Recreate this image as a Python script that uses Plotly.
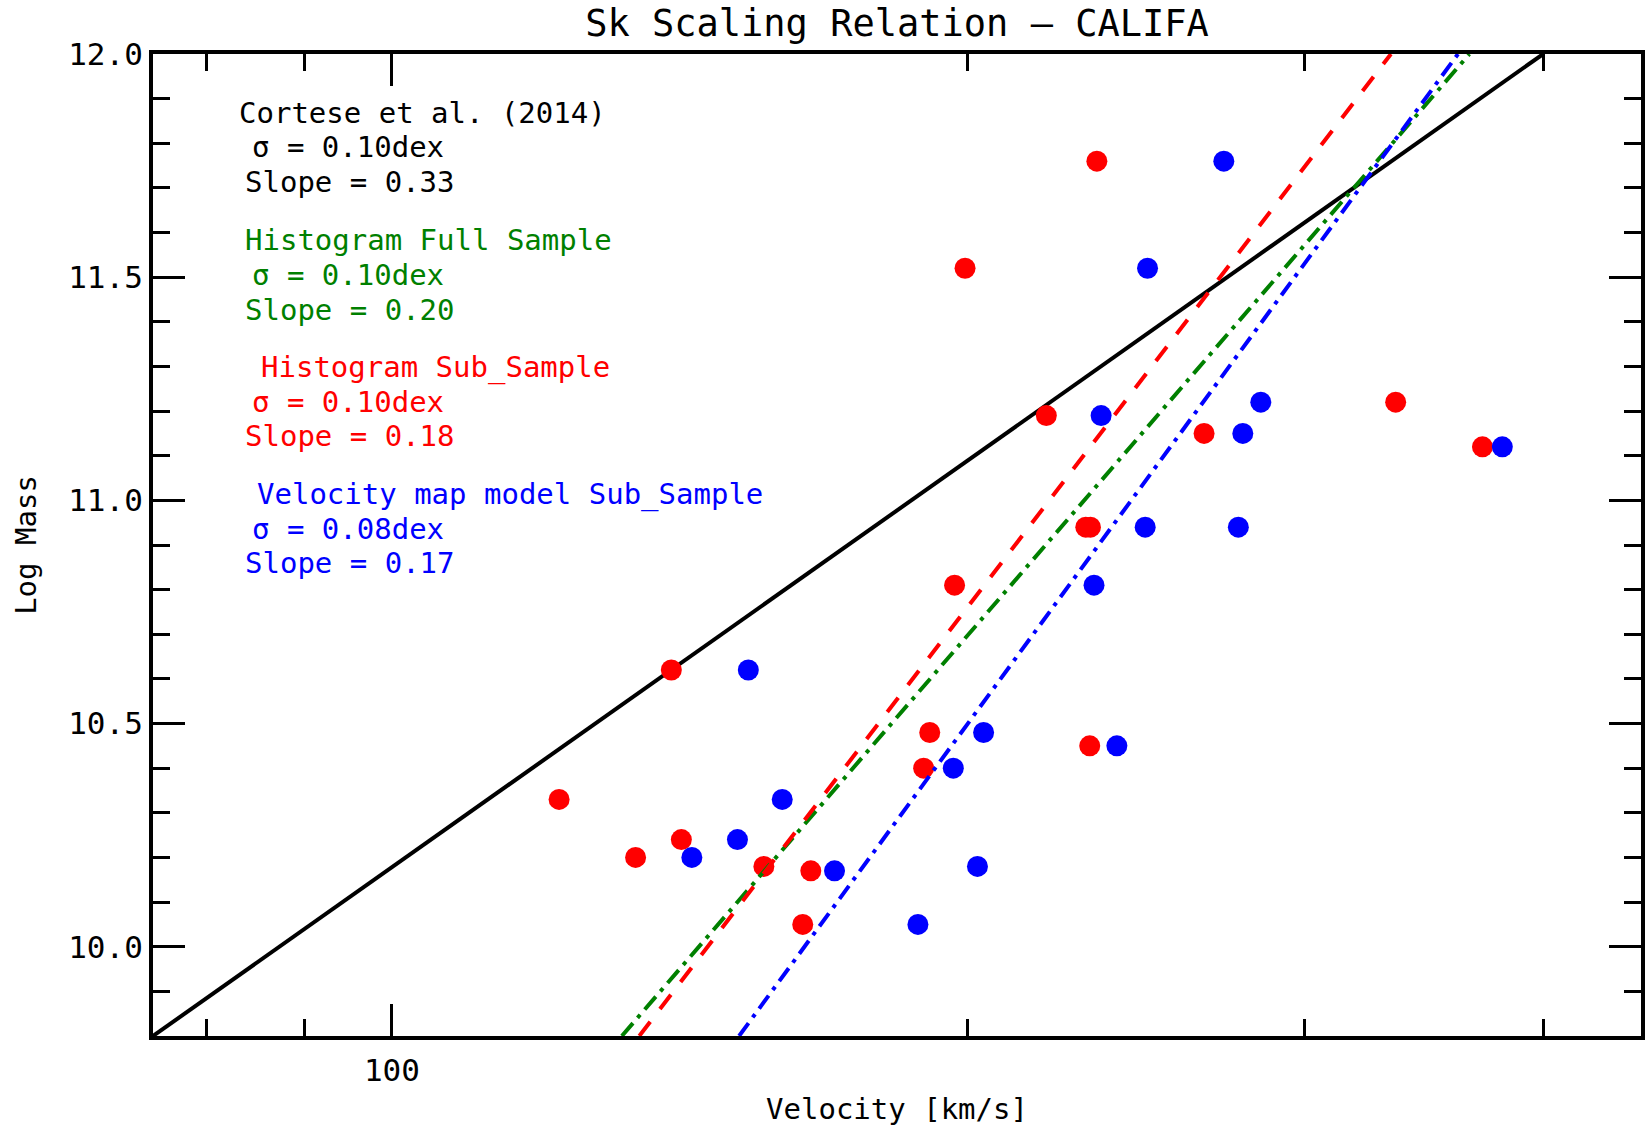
import math
import plotly.graph_objects as go

# ---------------- data ----------------
log_mass = [11.76, 11.52, 11.22, 11.19, 11.15, 11.12, 10.94, 10.94, 10.81, 10.62,
            10.48, 10.45, 10.40, 10.33, 10.24, 10.20, 10.18, 10.17, 10.05]
vel_hist_sub = [233.7, 199.4, 334.9, 219.9, 265.9, 371.8, 230.6, 231.9, 196.9, 140.0,
                191.1, 231.7, 189.7, 122.3, 141.7, 134.1, 156.5, 165.6, 164.0]
vel_model_sub = [272.3, 248.4, 284.7, 234.9, 278.6, 380.8, 247.7, 277.1, 232.9, 153.6,
                 203.9, 239.4, 196.6, 160.0, 151.6, 143.5, 202.4, 170.4, 188.4]

fit_mass = [9.8, 12.0]
vel_cortese_fit = [75.0, 400.0]
vel_hist_full_fit = [131.9, 366.0]
vel_hist_sub_fit = [134.7, 333.0]
vel_model_sub_fit = [151.9, 361.0]

x_major_ticks = [100]
x_major_labels = ["100"]
x_minor_ticks = [80, 90, 200, 300, 400]
y_major_ticks = [10.0, 10.5, 11.0, 11.5, 12.0]
y_major_labels = ["10.0", "10.5", "11.0", "11.5", "12.0"]

x_range = [75, 450]
y_range = [9.8, 12.0]

title_text = "Sk Scaling Relation – CALIFA"
x_title = "Velocity [km/s]"
y_title = "Log Mass"

legend_lines = ["Cortese et al. (2014)", "σ = 0.10dex", "Slope = 0.33",
                "Histogram Full Sample", "σ = 0.10dex", "Slope = 0.20",
                "Histogram Sub_Sample", "σ = 0.10dex", "Slope = 0.18",
                "Velocity map model Sub_Sample", "σ = 0.08dex", "Slope = 0.17"]

# ---------------- styles ----------------
BLACK, GREEN, RED, BLUE = "#000000", "#008000", "#ff0000", "#0000ff"
FONT = "DejaVu Sans Mono"
W, H = 1651, 1128
ML, MR, MT, MB = 153, 6, 54, 92

legend_colors = [BLACK] * 3 + [GREEN] * 3 + [RED] * 3 + [BLUE] * 3
legend_px = [238, 251, 244, 244, 251, 244, 260, 251, 244, 256, 251, 244]
legend_py = [113, 147, 182, 240, 275, 310, 368, 402, 436, 494, 529, 563]

fig = go.Figure()

fig.add_trace(go.Scatter(x=vel_cortese_fit, y=fit_mass, mode="lines",
                         line=dict(color=BLACK, width=4), showlegend=False))
fig.add_trace(go.Scatter(x=vel_hist_sub, y=log_mass, mode="markers",
                         marker=dict(color=RED, size=21, line=dict(width=0)),
                         showlegend=False))
fig.add_trace(go.Scatter(x=vel_model_sub, y=log_mass, mode="markers",
                         marker=dict(color=BLUE, size=21, line=dict(width=0)),
                         showlegend=False))
fig.add_trace(go.Scatter(x=vel_hist_full_fit, y=fit_mass, mode="lines",
                         line=dict(color=GREEN, width=4, dash="17px,7px,4px,7px"),
                         showlegend=False))
fig.add_trace(go.Scatter(x=vel_hist_sub_fit, y=fit_mass, mode="lines",
                         line=dict(color=RED, width=4, dash="18px,16px"),
                         showlegend=False))
fig.add_trace(go.Scatter(x=vel_model_sub_fit, y=fit_mass, mode="lines",
                         line=dict(color=BLUE, width=4, dash="16px,7px,4px,7px"),
                         showlegend=False))

pw = W - ML - MR
ph = H - MT - MB
annotations = []
for txt, col, px, py in zip(legend_lines, legend_colors, legend_px, legend_py):
    annotations.append(dict(text=txt, xref="paper", yref="paper",
                            x=(px - ML) / pw, y=(H - MB - py) / ph,
                            xanchor="left", yanchor="middle", showarrow=False,
                            borderpad=0,
                            font=dict(family=FONT, size=29, color=col)))

axis_common = dict(showline=True, linecolor=BLACK, linewidth=4, mirror="ticks",
                   ticks="inside", ticklen=32, tickwidth=3, tickcolor=BLACK,
                   showgrid=False, zeroline=False,
                   tickfont=dict(family=FONT, size=31, color=BLACK))

fig.update_layout(
    width=W, height=H,
    margin=dict(l=ML, r=MR, t=MT, b=MB, pad=0),
    paper_bgcolor="white", plot_bgcolor="white",
    title=dict(text=title_text, x=0.5, xref="paper", xanchor="center",
               y=1 - 23 / H, yref="container", yanchor="middle",
               font=dict(family=FONT, size=37, color=BLACK)),
    xaxis=dict(type="log", range=[math.log10(x_range[0]), math.log10(x_range[1])],
               tickmode="array", tickvals=x_major_ticks, ticktext=x_major_labels,
               ticklabelstandoff=4,
               minor=dict(tickmode="array", tickvals=x_minor_ticks, ticks="inside",
                          ticklen=17, tickwidth=3, tickcolor=BLACK, showgrid=False),
               title=dict(text=x_title, standoff=12,
                          font=dict(family=FONT, size=29, color=BLACK)),
               **axis_common),
    yaxis=dict(range=y_range, tickmode="array", tickvals=y_major_ticks,
               ticktext=y_major_labels,
               minor=dict(dtick=0.1, ticks="inside", ticklen=17, tickwidth=3,
                          tickcolor=BLACK, showgrid=False),
               title=dict(text=y_title, standoff=24,
                          font=dict(family=FONT, size=29, color=BLACK)),
               **axis_common),
    annotations=annotations,
)

fig.write_html("out.html")
